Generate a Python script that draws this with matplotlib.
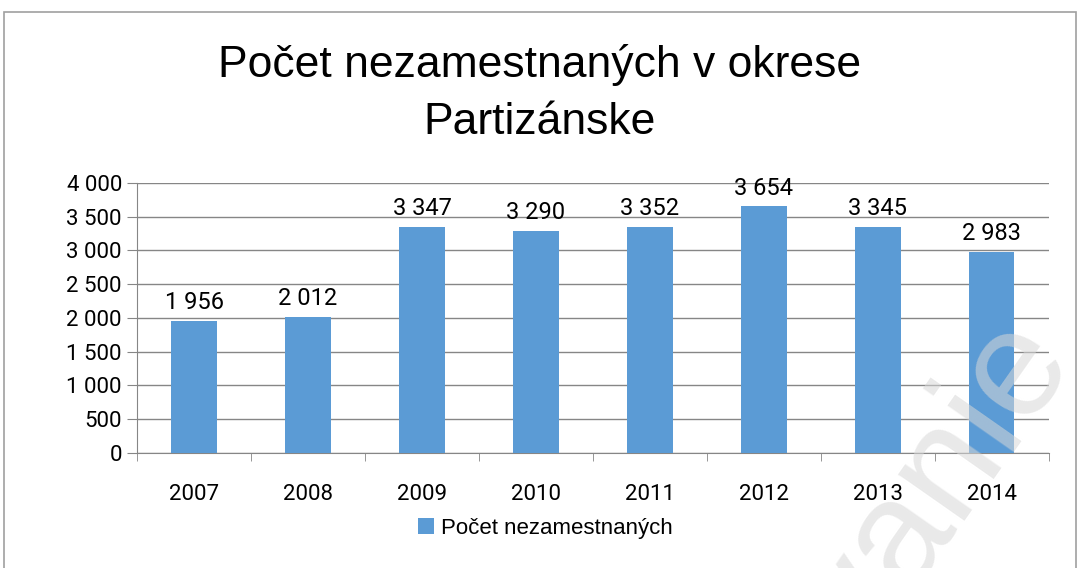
import matplotlib.pyplot as plt
from matplotlib.patches import Rectangle

annees = ['2007', '2008', '2009', '2010', '2011', '2012', '2013', '2014']
nezamestnani = [1956, 2012, 3347, 3290, 3352, 3654, 3345, 2983]
graduations = [0, 500, 1000, 1500, 2000, 2500, 3000, 3500, 4000]

TITRE = 'Počet nezamestnaných v okrese\nPartizánske'
LEGENDE = 'Počet nezamestnaných'
COULEUR = '#5B9BD5'  # bleu des barres


def separateur(v):
    return f"{int(v):,}".replace(",", " ")


def generer_graphique():
    plt.rcParams['font.family'] = ['Roboto', 'DejaVu Sans']

    fig = plt.figure(figsize=(10.8, 5.68), dpi=100)
    fig.patches.append(Rectangle((0.004, -0.05), 0.992, 1.028, transform=fig.transFigure,
                                 fill=False, edgecolor='#A0A0A0', linewidth=1.2))
    ax = fig.add_axes([0.127, 0.2025, 0.844, 0.4755])

    x = list(range(len(annees)))
    barres = ax.bar(x, nezamestnani, width=0.4, color=COULEUR, label=LEGENDE, zorder=3)
    for b, v in zip(barres, nezamestnani):
        ax.text(b.get_x() + b.get_width() / 2, v + 100, separateur(v),
                ha='center', va='bottom', fontsize=17, color='black')

    ax.set_xlim(-0.5, len(annees) - 0.5)
    ax.set_ylim(0, 4000)
    ax.set_yticks(graduations)
    ax.set_yticklabels([separateur(g) for g in graduations], fontsize=16)
    ax.set_xticks(x)
    ax.set_xticklabels(annees, fontsize=16)
    ax.set_xticks([i - 0.5 for i in range(len(annees) + 1)], minor=True)
    ax.tick_params(axis='x', which='major', length=0, pad=22)
    ax.tick_params(axis='x', which='minor', length=6, color='#868686')
    ax.tick_params(axis='y', length=7, color='#868686', pad=4)

    ax.grid(axis='y', color='#868686', linewidth=1.0, zorder=0)
    for cote in ['top', 'right']:
        ax.spines[cote].set_visible(False)
    ax.spines['left'].set_color('#868686')
    ax.spines['bottom'].set_color('#868686')

    fig.text(0.5, 0.835, TITRE, ha='center', va='center', fontsize=32, linespacing=1.5,
             family=['Liberation Sans', 'DejaVu Sans'])

    fig.legend(loc='center', bbox_to_anchor=(0.505, 0.07), frameon=False,
               handlelength=0.7, handleheight=0.7, handletextpad=0.3,
               prop={'family': ['Liberation Sans', 'DejaVu Sans'], 'size': 16})

    # filigrane
    fig.text(0.87, 0.14, 'vanie', fontsize=110, color='#D8D8D8', rotation=55,
             ha='center', va='center', family=['Liberation Sans', 'DejaVu Sans'], zorder=10, alpha=0.55)

    fig.savefig('out.png', dpi=100)


if __name__ == "__main__":
    generer_graphique()
